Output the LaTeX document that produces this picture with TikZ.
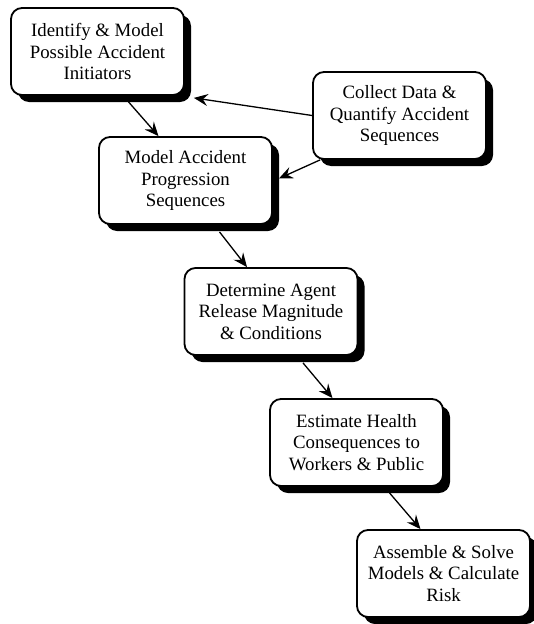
\documentclass[tikz,border=0pt]{standalone}
\usepackage{fontspec}
\setmainfont{Liberation Serif}
\usetikzlibrary{arrows.meta,shadows}
\begin{document}
\begin{tikzpicture}[x=1pt,y=1pt,
  stepbox/.style={draw=black, line width=1.8pt, fill=white, rounded corners=11pt,
    minimum width=173pt, minimum height=87pt, align=center, inner sep=2pt,
    font=\fontsize{18.8}{21.5}\selectfont,
    drop shadow={shadow xshift=7pt, shadow yshift=-7pt, opacity=1, fill=black}},
  arr/.style={line width=1.3pt, -{Stealth[length=14pt,width=12pt,inset=5pt]}}]
\useasboundingbox (0,0) rectangle (533,-624);
\fill[white] (0,0) rectangle (533,-624);
\node[stepbox] (n1) at (97.5,-51.5) {Identify \& Model\\Possible Accident\\Initiators};
\node[stepbox] (n2) at (399.5,-115.5) {Collect Data \&\\Quantify Accident\\Sequences};
\node[stepbox] (n3) at (185.5,-180.5) {Model Accident\\Progression\\Sequences};
\node[stepbox] (n4) at (271,-311.5) {Determine Agent\\Release Magnitude\\\& Conditions};
\node[stepbox] (n5) at (356.5,-442.5) {Estimate Health\\Consequences to\\Workers \& Public};
\node[stepbox] (n6) at (443.5,-573.5) {Assemble \& Solve\\Models \& Calculate\\Risk};
\draw[arr] ([shift={(31pt,-6pt)}]n1.south) -- ([xshift=-27pt]n3.north);
\draw[arr] (n2.west) -- ([shift={(9pt,-2pt)}]n1.south east);
\draw[arr] ([xshift=8pt]n2.south west) -- ([shift={(6pt,2pt)}]n3.east);
\draw[arr] ([shift={(34pt,-7pt)}]n3.south) -- ([xshift=-24pt]n4.north);
\draw[arr] ([shift={(32pt,-7pt)}]n4.south) -- ([xshift=-24pt]n5.north);
\draw[arr] ([shift={(33pt,-6pt)}]n5.south) -- ([xshift=-23pt]n6.north);
\end{tikzpicture}
\end{document}
